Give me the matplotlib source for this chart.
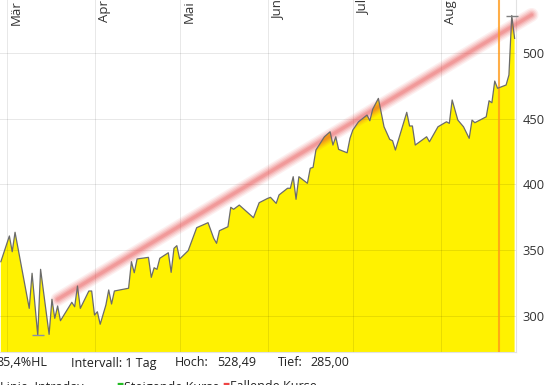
import numpy as np
import pandas as pd
import matplotlib
matplotlib.use('Agg')
import matplotlib.pyplot as plt
import matplotlib.transforms as mtransforms

plt.rcParams['font.family'] = ['Open Sans', 'DejaVu Sans']

# ---------------- data ----------------
dates = ['02-27', '03-02', '03-03', '03-04', '03-09', '03-10', '03-12', '03-13',
         '03-16', '03-17', '03-18', '03-19', '03-20', '03-24', '03-25', '03-26',
         '03-27', '03-30', '03-31', '04-01', '04-02', '04-03', '04-05', '04-06',
         '04-07', '04-08', '04-13', '04-14', '04-15', '04-16', '04-20', '04-21',
         '04-22', '04-23', '04-24', '04-27', '04-28', '04-29', '04-30', '05-01',
         '05-04', '05-07', '05-11', '05-13', '05-14', '05-15', '05-18', '05-19',
         '05-20', '05-22', '05-27', '05-29', '06-01', '06-02', '06-04', '06-05',
         '06-08', '06-09', '06-10', '06-11', '06-12', '06-15', '06-16', '06-17',
         '06-18', '06-21', '06-23', '06-24', '06-25', '06-26', '06-29', '06-30',
         '07-01', '07-03', '07-06', '07-07', '07-08', '07-10', '07-12', '07-14',
         '07-15', '07-16', '07-20', '07-21', '07-22', '07-23', '07-27', '07-28',
         '07-31', '08-03', '08-04', '08-05', '08-07', '08-09', '08-11', '08-12',
         '08-13', '08-17', '08-18', '08-19', '08-20', '08-21', '08-24', '08-25',
         '08-26', '08-27']
prices = [341.1, 360.7, 348.7, 363.5, 305.6, 332.3, 285.0, 335.3,
          285.8, 312.5, 298.0, 307.4, 296.2, 310.2, 306.8, 322.6,
          305.6, 318.8, 318.8, 300.5, 303.0, 293.5, 308.1, 319.6,
          308.9, 318.8, 320.9, 341.1, 332.7, 343.2, 344.4, 329.2,
          336.5, 335.3, 343.7, 347.9, 333.0, 351.3, 353.3, 343.2,
          349.5, 367.0, 370.8, 358.9, 355.1, 364.7, 367.7, 382.5,
          381.0, 384.2, 374.6, 386.0, 389.3, 390.1, 385.5, 391.9,
          397.0, 397.0, 405.8, 388.6, 405.8, 400.8, 412.2, 412.9,
          426.1, 436.2, 440.0, 429.9, 436.2, 426.6, 424.0, 435.0,
          441.3, 447.6, 452.7, 448.4, 457.1, 465.4, 443.8, 434.2,
          433.2, 426.1, 454.8, 444.4, 444.4, 429.9, 436.2, 432.4,
          443.8, 447.6, 446.4, 464.2, 448.9, 443.8, 435.0, 448.9,
          446.9, 451.4, 463.6, 462.1, 478.6, 473.1, 475.6, 483.2,
          528.49, 511.1]

year = '2023'
month_starts = ['03-01', '04-01', '05-01', '06-01', '07-01', '08-01']
month_labels = ['Mär', 'Apr', 'Mai', 'Jun', 'Jul', 'Aug']
y_ticks = [300, 350, 400, 450, 500]

trend_dates = ['03-19', '09-02']
trend_vals = [312.5, 529.0]
marker_date = '08-21'

high_val, low_val = 528.49, 285.00
info_items = [('85,4%HL', -4), ('Intervall: 1 Tag', 71), ('Hoch:', 175),
              ('528,49', 217), ('Tief:', 278), ('285,00', 310)]
legend_items = [('Linie  Intraday', None, 0), ('Steigende Kurse', '#22bb22', 116),
                ('Fallende Kurse', '#ee4444', 222)]

# ---------------- figure ----------------
x = pd.to_datetime([year + '-' + d for d in dates])
y = np.array(prices)
t_x = pd.to_datetime([year + '-' + d for d in trend_dates])

fig = plt.figure(figsize=(5.51, 3.85), dpi=100)
ax = fig.add_axes([0.0, 0.0865, 0.936, 0.9135])

base = pd.Timestamp(year + '-03-01')
ax.set_xlim(base - pd.Timedelta(days=2.3), base + pd.Timedelta(days=179.4))
ax.set_ylim(272.6, 540.3)

# area + price line
ax.fill_between(x, y, 0, color='#fff200', zorder=1, linewidth=0)
# blurred trend band (several translucent strokes)
for lw, a in [(10, 0.08), (8, 0.10), (6, 0.13), (4, 0.17), (2.2, 0.18)]:
    ax.plot(t_x, trend_vals, color='#e63c3c', lw=lw, alpha=a,
            solid_capstyle='round', zorder=3, clip_on=False)
ax.axvline(pd.Timestamp(year + '-' + marker_date) + pd.Timedelta(hours=8),
           color='#ff9a1a', lw=1.5, alpha=0.8, zorder=3.5)
ax.plot(x, y, color='#6b6b6b', lw=0.9, zorder=4)

# high / low markers
i_hi = int(np.argmax(y))
i_lo = int(np.argmin(y))
ax.plot(x[i_hi], high_val, marker='_', ms=8, mew=1, color='#808080', zorder=5, clip_on=False)
ax.plot(x[i_lo], low_val, marker='_', ms=8, mew=1, color='#8a90a8', zorder=5)

# grid
ax.set_xticks(pd.to_datetime([year + '-' + m for m in month_starts]))
ax.set_yticks(y_ticks)
ax.set_axisbelow(False)
ax.grid(True, color='k', alpha=0.09, lw=0.75)
ax.tick_params(axis='x', length=0, labelbottom=False)
ax.tick_params(axis='y', length=0, left=False, labelleft=False, labelright=True,
               pad=4.8, labelsize=9.3, labelcolor='#333333')

for side in ['left', 'top']:
    ax.spines[side].set_visible(False)
for side in ['right', 'bottom']:
    ax.spines[side].set_color('#e2e2e2')
    ax.spines[side].set_linewidth(0.8)

# month labels, rotated at the top
off = mtransforms.offset_copy(ax.get_xaxis_transform(), fig=fig, x=3.5, y=0, units='dots')
for m, lab in zip(month_starts, month_labels):
    ax.text(pd.Timestamp(year + '-' + m), 1.0, lab, rotation=90, ha='left', va='top',
            fontsize=9.5, color='#333333', transform=off)

# info row below the chart
for txt, px in info_items:
    fig.text(px / 551, 1 - 363 / 385, txt, fontsize=9, color='#222222', va='center', ha='left')

# legend row (cut off at the bottom edge)
for txt, col, px in legend_items:
    tx = px
    if col is not None:
        fig.text(px / 551, 1 - 383 / 385, '\u25a0', fontsize=5.5, color=col, va='top')
        tx = px + 8
    fig.text(tx / 551, 1 - 380.5 / 385, txt, fontsize=9, color='#222222', va='top')

fig.savefig('out.png', dpi=100)
